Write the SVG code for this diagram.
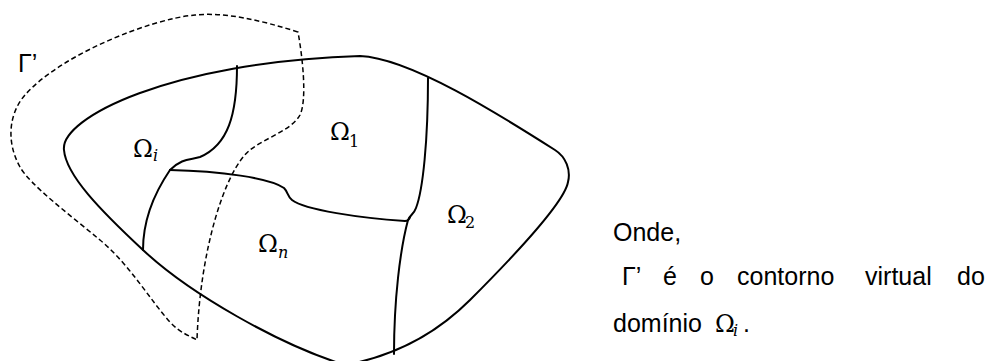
<svg xmlns="http://www.w3.org/2000/svg" width="989" height="361" viewBox="0 0 989 361">
<style>
.solid{fill:none;stroke:#000;stroke-width:2;stroke-linejoin:round;stroke-linecap:round}
.dash{fill:none;stroke:#000;stroke-width:1.5;stroke-dasharray:5 3}
.om{font-family:"DejaVu Serif","Liberation Serif",serif;font-size:24px;fill:#000}
.sub{font-family:"DejaVu Serif","Liberation Serif",serif;font-size:16px;fill:#000}
.it{font-style:italic}
.txt{font-family:"Liberation Sans",Arial,sans-serif;font-size:25px;fill:#000}
</style>
<rect width="989" height="361" fill="#fff"/>
<g id="domain">
<path class="solid" d="M64,150 C60,118 170,62 360,56 C410,58 500,115 555,150 C566,157 571,170 568,182 C565,200 520,250 470,300 C440,330 400,355 345,365 C280,345 190,294 143,250 C100,210 66,175 64,150 Z"/>
</g>
<g id="connectors">
<path class="solid" d="M237,66 C237,115 228,145 200,157 C190,160 182,158 170,170"/>
<path class="solid" d="M170,170 C155,192 143,220 143,250"/>
<path class="solid" d="M170,170 C220,171 270,178 284,188 C288,192 287,196 292,200 C305,210 360,218 405,221 Q409,221 410,217"/>
<path class="solid" d="M428,78 C428,140 423,190 416,208 C414,214 410,215 408,220 C400,250 394,300 394,354"/>
</g>
<g id="virtual-contour">
<path class="dash" d="M298,32 C260,20 225,12 195,15 C150,19 60,55 25,95 C10,112 5,140 20,167 C30,185 70,215 100,240 C130,265 150,300 170,322 C180,333 190,336 197,340 C200,250 225,170 250,150 C265,138 292,130 300,115 C307,100 303,60 298,32 Z"/>
<text class="txt" x="18" y="72" font-size="26">Γ’</text>
</g>
<g id="omega-i"><text class="om" x="133" y="157">Ω</text><text class="sub it" x="153" y="161">i</text></g>
<g id="omega-1"><text class="om" x="330" y="140">Ω</text><text class="sub" x="349" y="147">1</text></g>
<g id="omega-n"><text class="om" x="258" y="252">Ω</text><text class="sub it" x="278" y="258">n</text></g>
<g id="omega-2"><text class="om" x="447" y="223" font-size="22">Ω</text><text class="sub" x="465" y="228">2</text></g>
<g id="caption">
<text class="txt" x="613" y="241">Onde,</text>
<text class="txt" y="285"><tspan x="622">Γ’</tspan><tspan x="663">é</tspan><tspan x="700">o</tspan><tspan x="737">contorno</tspan><tspan x="865">virtual</tspan><tspan x="957">do</tspan></text>
<text class="txt" x="613" y="332">domínio</text>
<text class="om" x="715" y="332" font-size="21">Ω</text>
<text class="sub it" x="733" y="336" font-size="15">i</text>
<text class="txt" x="743" y="332">.</text>
</g>
</svg>
